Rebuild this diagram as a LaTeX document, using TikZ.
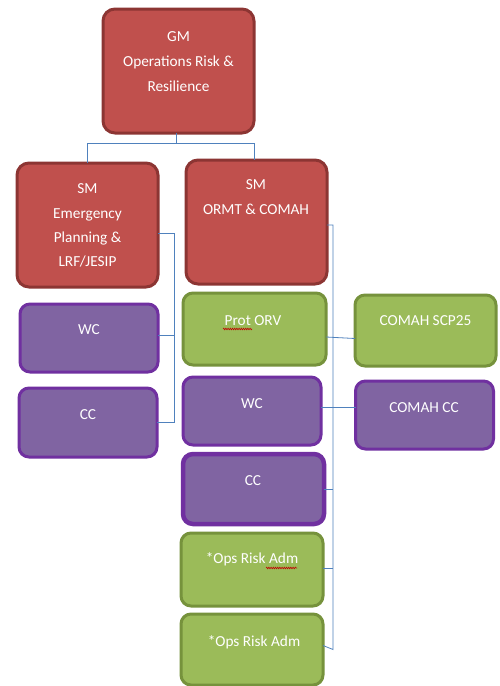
\documentclass[tikz,border=0pt]{standalone}
\usepackage{fontspec}
\setmainfont{Carlito}
\usetikzlibrary{decorations.pathmorphing}
\definecolor{redfill}{HTML}{C0504D}
\definecolor{redline}{HTML}{8C3533}
\definecolor{purplefill}{HTML}{8064A2}
\definecolor{purpleline}{HTML}{7030A0}
\definecolor{greenfill}{HTML}{9BBB59}
\definecolor{greenline}{HTML}{76923C}
\definecolor{linkblue}{HTML}{4F81BD}
\begin{document}
\begin{tikzpicture}[x=1pt,y=-1pt,
  box/.style={draw, line width=3pt, rounded corners=12pt, inner sep=0pt, outer sep=0pt},
  redbox/.style={box, fill=redfill, draw=redline},
  purplebox/.style={box, fill=purplefill, draw=purpleline, rounded corners=10pt},
  greenbox/.style={box, fill=greenfill, draw=greenline, rounded corners=10pt},
  txt/.style={text=white, font=\fontsize{15.3}{18}\selectfont, anchor=base, inner sep=0pt},
  link/.style={draw=linkblue, line width=0.8pt},
  squiggle/.style={draw=red!75!black, line width=0.6pt,
    decorate, decoration={snake, amplitude=0.8pt, segment length=2.2pt}}]
  % page
  \fill[white] (0,0) rectangle (499,686);
  \useasboundingbox (0,0) rectangle (499,686);

  % boxes
  \node[redbox, minimum width=151pt, minimum height=124pt] (gm) at (178.5,71) {};
  \node[redbox, minimum width=141pt, minimum height=124pt] (sml) at (87.5,225) {};
  \node[redbox, minimum width=141pt, minimum height=124pt] (smr) at (256.5,222) {};
  \node[purplebox, minimum width=138pt, minimum height=68pt] (wcl) at (89,338) {};
  \node[purplebox, minimum width=138pt, minimum height=69pt] (ccl) at (88,422.5) {};
  \node[greenbox, minimum width=143pt, minimum height=72pt] (prot) at (254.5,329) {};
  \node[greenbox, minimum width=141pt, minimum height=71pt] (scp) at (425.5,330.5) {};
  \node[purplebox, minimum width=138pt, minimum height=68pt] (wcm) at (252,411) {};
  \node[purplebox, minimum width=138pt, minimum height=68pt] (comcc) at (424.5,415) {};
  \node[purplebox, line width=4.5pt, minimum width=141pt, minimum height=70pt] (ccm) at (253.5,489) {};
  \node[greenbox, minimum width=142pt, minimum height=73pt] (ops1) at (252,569.5) {};
  \node[greenbox, minimum width=142pt, minimum height=71pt] (ops2) at (252,649.5) {};

  % labels
  \node[txt] (gm1) at (178.5,41) {GM};
  \node[txt] (gm2) at (178.5,66) {Operations Risk \&};
  \node[txt] (gm3) at (178.5,91) {Resilience};
  \node[txt] (sml1) at (87.5,193) {SM};
  \node[txt] (sml2) at (87.5,218) {Emergency};
  \node[txt] (sml3) at (87.5,242) {Planning \&};
  \node[txt] (sml4) at (87.5,266) {LRF/JESIP};
  \node[txt] (smr1) at (256,189) {SM};
  \node[txt] (smr2) at (256,214) {ORMT \& COMAH};
  \node[txt] (wcl1) at (89,334) {WC};
  \node[txt] (ccl1) at (88,419) {CC};
  \node[txt] (prot1) at (253,325) {Prot ORV};
  \node[txt] (scp1) at (425.5,325) {COMAH SCP25};
  \node[txt] (wcm1) at (252,408) {WC};
  \node[txt] (comcc1) at (424,412) {COMAH CC};
  \node[txt] (ccm1) at (253,485) {CC};
  \node[txt] (ops1t) at (252,563) {*Ops Risk Adm};
  \node[txt] (ops2t) at (254,646) {*Ops Risk Adm};

  % spelling marks under flagged words
  \draw[squiggle] (223,329) -- (252,329);
  \draw[squiggle] (266,568) -- (297,568);

  % reporting lines
  \coordinate (gmdrop) at (176,143);
  \coordinate (lbus) at (174,0);
  \coordinate (rbus) at (333,0);
  \draw[link] (gm.south -| gmdrop) -- (gmdrop) -| (sml.north);
  \draw[link] (gmdrop) -| ([xshift=-2pt]smr.north);

  \draw[link] ([yshift=-8pt]sml.east) -| (lbus |- ccl.east) -- (ccl.east);
  \draw[link] ([yshift=3pt]wcl.east) -- ([yshift=3pt]wcl.east -| lbus);

  \draw[link] ([yshift=-3pt]smr.east) -| (rbus |- ops2.east) -- ([yshift=4pt]ops2.east);
  \draw[link] ([yshift=-8pt]prot.east) -- ([yshift=-8pt]scp.west);
  \draw[link] ([yshift=4pt]wcm.east) -- ([yshift=8pt]comcc.west);
  \draw[link] (ccm.east) -- (ccm.east -| rbus);
  \draw[link] ([yshift=1.5pt]ops1.east) -- ([yshift=1.5pt]ops1.east -| rbus);
\end{tikzpicture}
\end{document}
